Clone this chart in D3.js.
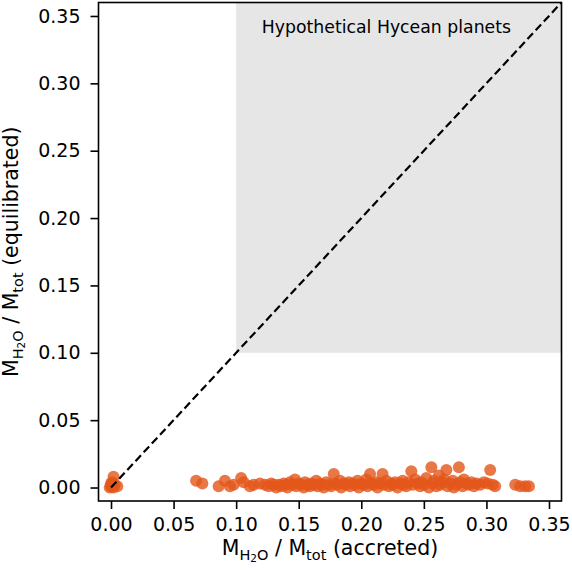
<!DOCTYPE html>
<html>
<head>
<meta charset="utf-8">
<script src="https://cdn.jsdelivr.net/npm/d3@7"></script>
<style>
  body { margin: 0; background: #fff; }
  text { font-family: "DejaVu Sans", sans-serif; fill: #000; }
</style>
</head>
<body>
<div id="chart"></div>
<script>
// Data: water mass fraction, accreted (x) vs equilibrated (y)
const accreted = [
  0.000, 0.001, 0.002, 0.003, 0.005, -0.001, 0.002, 0.000,
  0.068, 0.073, 0.086, 0.091, 0.095, 0.098, 0.104, 0.106, 0.111, 0.114, 0.119,
  0.123, 0.126, 0.128, 0.130, 0.132, 0.134, 0.136, 0.138, 0.140, 0.141,
  0.143, 0.145, 0.147, 0.148, 0.150, 0.152, 0.154, 0.155, 0.157, 0.159,
  0.160, 0.162, 0.164, 0.165, 0.167, 0.169, 0.170, 0.172, 0.174, 0.176,
  0.178, 0.179, 0.181, 0.183, 0.184, 0.186, 0.188, 0.190, 0.191, 0.193,
  0.195, 0.197, 0.198, 0.200, 0.202, 0.204, 0.205, 0.207, 0.208, 0.210,
  0.212, 0.213, 0.215, 0.217, 0.218, 0.220, 0.222, 0.224, 0.225, 0.227,
  0.229, 0.231, 0.233, 0.234, 0.236, 0.238, 0.240, 0.241, 0.243, 0.245,
  0.247, 0.248, 0.250, 0.252, 0.254, 0.256, 0.257, 0.258, 0.260, 0.262,
  0.263, 0.265, 0.266, 0.268, 0.269, 0.271, 0.273, 0.274, 0.276, 0.278,
  0.279, 0.281, 0.282, 0.284, 0.286, 0.288, 0.290, 0.292, 0.295, 0.298,
  0.301, 0.303, 0.305, 0.307,
  0.323, 0.327, 0.331, 0.334
];
const equilibrated = [
  0.001, 0.004, 0.008, 0.002, 0.001, 0.000, 0.000, 0.003,
  0.005, 0.003, 0.001, 0.005, 0.001, 0.002, 0.007, 0.004, 0.001, 0.002, 0.003,
  0.002, 0.001, 0.003, 0.002, 0.000, 0.002, 0.001, 0.003, 0.002, 0.000,
  0.004, 0.002, 0.006, 0.001, 0.003, 0.002, 0.000, 0.004, 0.002, 0.001,
  0.003, 0.002, 0.005, 0.001, 0.003, 0.002, 0.000, 0.004, 0.002, 0.001,
  0.010, 0.003, 0.002, 0.005, 0.000, 0.003, 0.002, 0.004, 0.001, 0.003,
  0.002, 0.005, 0.000, 0.003, 0.002, 0.006, 0.001, 0.010, 0.003, 0.002,
  0.004, 0.000, 0.003, 0.010, 0.002, 0.005, 0.001, 0.003, 0.002, 0.004,
  0.000, 0.003, 0.005, 0.002, 0.001, 0.004, 0.012, 0.002, 0.006, 0.003,
  0.001, 0.004, 0.002, 0.007, 0.000, 0.015, 0.003, 0.005, 0.001, 0.009,
  0.002, 0.004, 0.006, 0.013, 0.001, 0.003, 0.005, 0.000, 0.002, 0.015,
  0.004, 0.001, 0.006, 0.003, 0.002, 0.004, 0.001, 0.003, 0.002, 0.004,
  0.003, 0.013, 0.002, 0.001,
  0.002, 0.001, 0.001, 0.001
];
const tickValues = [0.00, 0.05, 0.10, 0.15, 0.20, 0.25, 0.30, 0.35];
const axisDomain = [-0.01, 0.36];
const hyceanMin = 0.10;
const hyceanLabel = "Hypothetical Hycean planets";

const dataset = accreted.map((x, i) => ({ x, y: equilibrated[i] }));

// Dimensions
const width = 572;
const height = 570;
const plot = { left: 98.5, right: 561.5, top: 2.5, bottom: 501 };

const svg = d3
  .select("#chart")
  .append("svg")
  .attr("width", width)
  .attr("height", height);

// Scales
const xScale = d3.scaleLinear().domain(axisDomain).range([plot.left, plot.right]);
const yScale = d3.scaleLinear().domain(axisDomain).range([plot.bottom, plot.top]);

// Hycean region
svg
  .append("rect")
  .attr("x", xScale(hyceanMin))
  .attr("y", yScale(axisDomain[1]))
  .attr("width", xScale(axisDomain[1]) - xScale(hyceanMin))
  .attr("height", yScale(hyceanMin) - yScale(axisDomain[1]))
  .attr("fill", "#e6e6e6");

svg
  .append("text")
  .attr("x", xScale(0.1205))
  .attr("y", yScale(0.3372))
  .attr("font-size", 17.3)
  .text(hyceanLabel);

// Points
svg
  .append("g")
  .selectAll("circle")
  .data(dataset)
  .join("circle")
  .attr("cx", (d) => xScale(d.x))
  .attr("cy", (d) => yScale(d.y))
  .attr("r", 6)
  .attr("fill", "#e4561a")
  .attr("fill-opacity", 0.8);

// 1:1 line
svg
  .append("line")
  .attr("x1", xScale(0))
  .attr("y1", yScale(0))
  .attr("x2", xScale(axisDomain[1]))
  .attr("y2", yScale(axisDomain[1]))
  .attr("stroke", "#000")
  .attr("stroke-width", 2.2)
  .attr("stroke-dasharray", "8,4");

// Axes
const fmt = d3.format(".2f");
const xAxis = d3.axisBottom(xScale).tickValues(tickValues).tickFormat(fmt)
  .tickSize(8).tickPadding(9).tickSizeOuter(0);
const yAxis = d3.axisLeft(yScale).tickValues(tickValues).tickFormat(fmt)
  .tickSize(8).tickPadding(10).tickSizeOuter(0);

const xAxisG = svg.append("g")
  .attr("transform", `translate(0, ${plot.bottom})`)
  .call(xAxis);
const yAxisG = svg.append("g")
  .attr("transform", `translate(${plot.left}, 0)`)
  .call(yAxis);

[xAxisG, yAxisG].forEach((g) => {
  g.select(".domain").remove();
  g.selectAll(".tick line").attr("stroke", "#000").attr("stroke-width", 1.6);
  g.selectAll(".tick text")
    .attr("font-family", "DejaVu Sans")
    .attr("font-size", 19)
    .attr("fill", "#000");
});

// Frame
svg
  .append("rect")
  .attr("x", plot.left)
  .attr("y", plot.top)
  .attr("width", plot.right - plot.left)
  .attr("height", plot.bottom - plot.top)
  .attr("fill", "none")
  .attr("stroke", "#000")
  .attr("stroke-width", 1.6);

// Axis labels with subscripts
function massLabel(sel, suffix) {
  sel.append("tspan").text("M");
  sel.append("tspan").attr("font-size", 14.5).attr("dy", 4.5).text("H");
  sel.append("tspan").attr("font-size", 10.5).attr("dy", 2.5).text("2");
  sel.append("tspan").attr("font-size", 14.5).attr("dy", -2.5).text("O");
  sel.append("tspan").attr("dy", -4.5).text(" / M");
  sel.append("tspan").attr("font-size", 14.5).attr("dy", 4.5).text("tot");
  sel.append("tspan").attr("dy", -4.5).text(" " + suffix);
}

const xLabel = svg
  .append("text")
  .attr("x", (plot.left + plot.right) / 2)
  .attr("y", 555)
  .attr("text-anchor", "middle")
  .attr("font-size", 20.5);
massLabel(xLabel, "(accreted)");

const yLabel = svg
  .append("text")
  .attr("transform", `translate(18, ${(plot.top + plot.bottom) / 2}) rotate(-90)`)
  .attr("text-anchor", "middle")
  .attr("font-size", 20.5);
massLabel(yLabel, "(equilibrated)");
</script>
</body>
</html>
